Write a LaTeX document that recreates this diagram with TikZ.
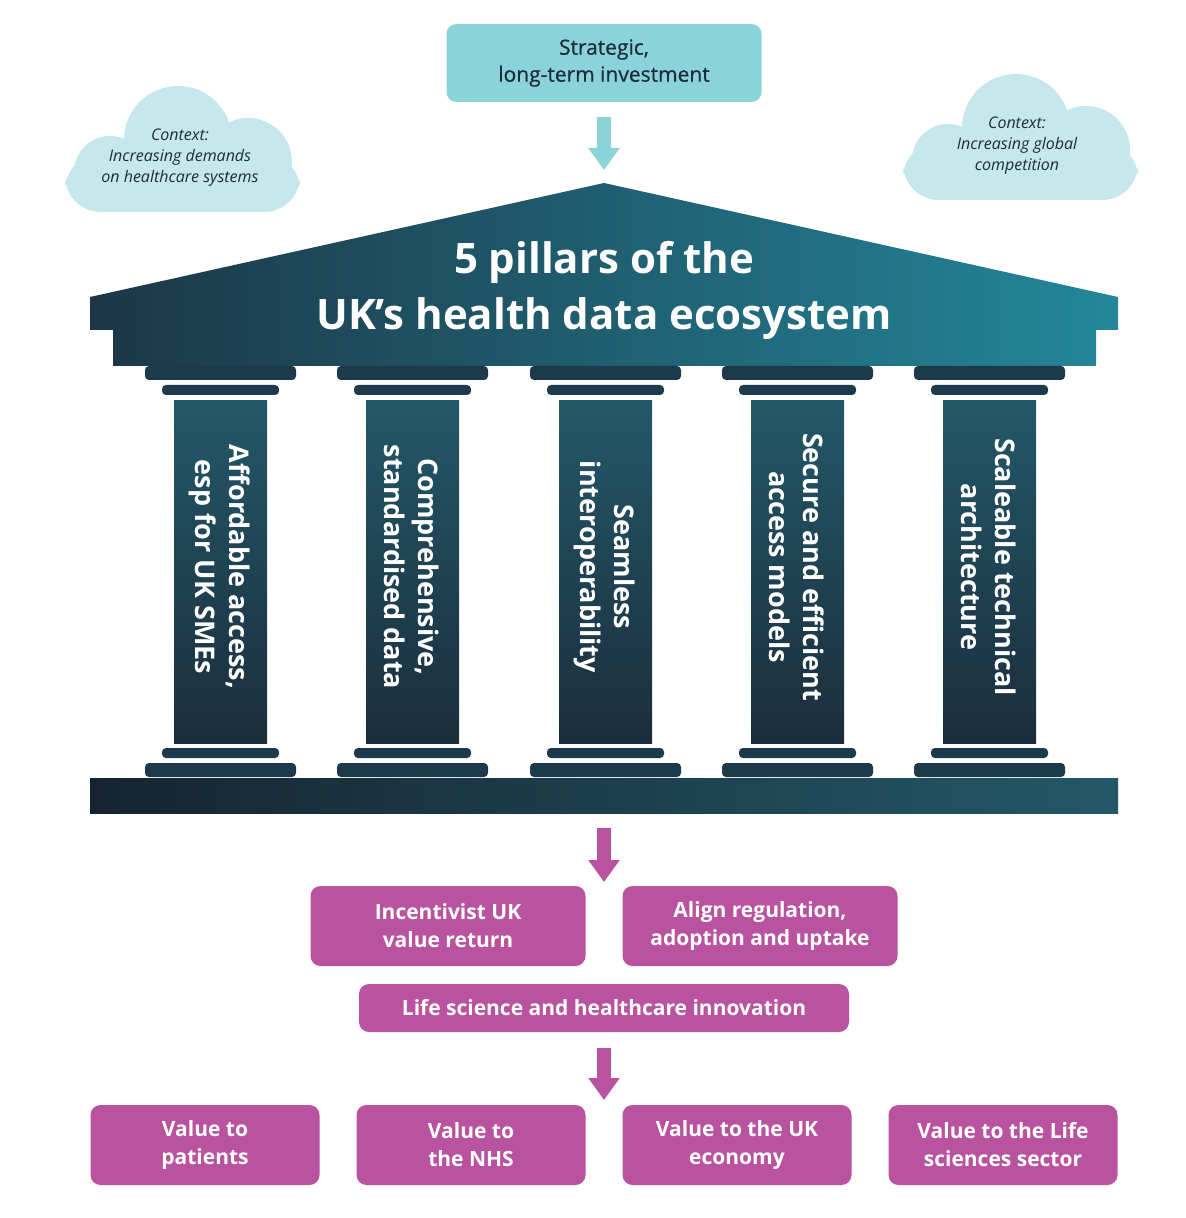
\documentclass[tikz,border=0pt]{standalone}
\usepackage{fontspec}
\setmainfont{Open Sans}
\usetikzlibrary{arrows.meta,positioning}
\definecolor{tealbox}{HTML}{8AD3D9}
\definecolor{cloudc}{HTML}{C6E7EB}
\definecolor{magbox}{HTML}{B9529F}
\definecolor{darkn}{HTML}{1B2D3D}
\definecolor{tealn}{HTML}{23879A}
\definecolor{midn}{HTML}{235868}
\begin{document}
\begin{tikzpicture}[x=0.5pt,y=-0.5pt,
        tealb/.style={fill=tealbox, rounded corners=5pt, text=darkn, align=center, font=\fontsize{10.5}{13.5}\selectfont\addfontfeature{FakeBold=0.6}, inner sep=0pt},
        magb/.style={fill=magbox, rounded corners=5pt, text=white, align=center, font=\fontsize{10.5}{14}\selectfont\bfseries, inner sep=0pt},
        cloudt/.style={align=center, text=darkn, font=\fontsize{8}{10.5}\selectfont\itshape},
        pillart/.style={rotate=-90, align=center, text=white, font=\fontsize{13.5}{17}\selectfont\bfseries},
        blockarr/.style={line width=7pt, -{Triangle[width=15pt,length=11pt]}},
        capital/.style={fill=darkn!85!tealn, rounded corners=2pt},
    ]
    \useasboundingbox (0,0) rectangle (1185,1218);
    % top box and arrow
    \node[tealb, minimum width=157.5pt, minimum height=39pt] (invest) at (604,63) {Strategic,\\long-term investment};
    \coordinate (apex) at (604,170);
    \draw[blockarr, tealbox] (604,117) -- (apex);
    % clouds
    \foreach \cx/\cy in {180/150, 1018/138}{
        \fill[cloudc] (\cx-2,\cy-10) circle (27pt)
            (\cx+68,\cy+12) circle (22pt)
            (\cx-70,\cy+22) circle (18pt);
        \fill[cloudc, rounded corners=18pt] (\cx-115,\cy+4) rectangle (\cx+120,\cy+62);
    }
    \node[cloudt] (ctxl) at (180,158) {Context:\\Increasing demands\\on healthcare systems};
    \node[cloudt] (ctxr) at (1017,146) {Context:\\Increasing global\\competition};
    % roof
    \shade[left color=darkn!90!tealn, right color=tealn] (90,297) -- (604,183) -- (1118,297) -- (1118,330) -- (1096,330) -- (1096,366) -- (113,366) -- (113,330) -- (90,330) -- cycle;
    \node[text=white, align=center, font=\fontsize{21}{28}\selectfont\bfseries] (title) at (604,290) {5 pillars of the\\UK’s health data ecosystem};
    % base
    \shade[left color=darkn!80!black, right color=midn] (90,778) rectangle (1118,813);
    % pillars
    \foreach \px/\txt [count=\i] in {220/{Affordable access,\\esp for UK SMEs}, 412/{Comprehensive,\\standardised data}, 605/{Seamless\\interoperability}, 797/{Secure and efficient\\access models}, 989/{Scaleable technical\\architecture}}{
        \fill[capital] (\px-75,366) rectangle (\px+76,380);
        \fill[capital] (\px-58,385) rectangle (\px+59,395);
        \shade[top color=midn, bottom color=darkn] (\px-46,401) rectangle (\px+47,743);
        \fill[capital] (\px-58,748) rectangle (\px+59,758);
        \fill[capital] (\px-75,763) rectangle (\px+76,777);
        \node[pillart] (p\i) at (\px,567) {\txt};
    }
    % outcomes
    \coordinate (outtop) at (604,882);
    \draw[blockarr, magbox] (604,828) -- (outtop);
    \node[magb, minimum width=137.5pt, minimum height=40pt] (incent) at (448,926) {Incentivist UK\\value return};
    \node[magb, minimum width=137.5pt, minimum height=40pt] (align) at (760,926) {Align regulation,\\adoption and uptake};
    \node[magb, minimum width=245pt, minimum height=24pt] (innov) at (604,1008) {Life science and healthcare innovation};
    \coordinate (valtop) at (604,1100);
    \draw[blockarr, magbox] (604,1048) -- (valtop);
    \foreach \vx/\txt/\nm in {205/{Value to\\patients}/vpat, 471/{Value to\\the NHS}/vnhs, 737/{Value to the UK\\economy}/vecon, 1003/{Value to the Life\\sciences sector}/vlife}{
        \node[magb, minimum width=114.5pt, minimum height=40pt] (\nm) at (\vx,1145) {\txt};
    }
\end{tikzpicture}
\end{document}
